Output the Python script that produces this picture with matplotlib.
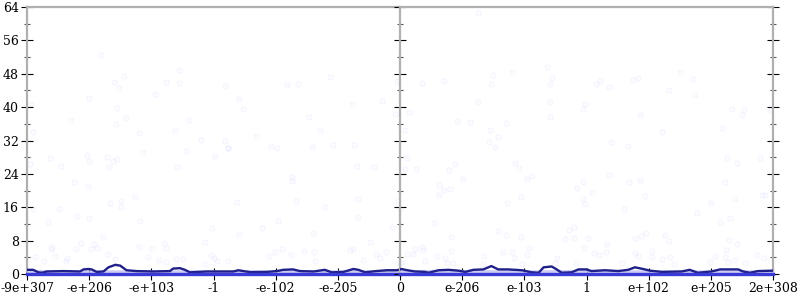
import numpy as np
import matplotlib
matplotlib.use("Agg")
import matplotlib.pyplot as plt

# x positions are in "tick units": 0..6 is the negative half, 6..12 the positive half
tick_pos = list(range(13))
tick_labels = ['-9e+307', '-e+206', '-e+103', '-1', '-e-102', '-e-205', '0',
               'e-206', 'e-103', '1', 'e+102', 'e+205', '2e+308']

# faint scatter points (error samples)
pts_x = [1.19, 1.00, 1.40, 1.48, 1.56, 1.44, 1.60, 1.43, 0.70, 0.10, 0.06, 1.80, 2.06,
         2.24, 2.44, 2.44, 2.38, 2.61, 2.80, 3.18, 3.41, 3.47, 3.18, 3.23, 3.68, 3.92,
         4.02, 4.19, 4.36, 4.53, 4.71, 4.88, 4.58, 4.92, 5.22, 5.26, 5.71, 5.95, 5.92,
         6.08, 6.14, 7.25, 6.35, 6.70, 6.92, 7.12, 7.25, 7.49, 7.47, 7.80, 7.44, 7.58,
         7.43, 7.53, 7.71, 8.36, 8.44, 8.42, 8.41, 8.42, 8.94, 8.98, 9.15, 9.22, 9.36,
         9.39, 9.66, 9.74, 9.83, 9.86, 10.32, 10.22, 10.50, 10.71, 10.74, 11.18, 11.34,
         11.53, 11.50, 11.97,
         0.37, 0.55, 0.96, 0.99, 1.29, 1.38, 1.45, 1.32, 1.87, 2.56, 2.41, 3.03, 3.24,
         0.75, 0.98, 0.05, 0.09, 0.51, 1.34, 1.51, 1.51, 1.74, 0.81, 1.00, 0.34, 1.82,
         1.23, 0.87, 1.07, 0.41, 0.38, 0.79, 1.03, 1.13, 0.45, 0.65, 0.62, 1.31, 1.42,
         0.13, 0.27, 1.80, 2.01, 2.21, 2.24, 1.95, 2.13, 2.23, 2.39, 2.51, 2.86, 2.98,
         3.38, 3.41, 2.96, 3.00, 3.06, 3.23, 2.87, 3.78, 4.03, 3.90, 3.99, 4.10, 4.26,
         4.27, 4.32, 4.60, 4.46, 4.61, 4.25, 4.64, 4.79, 5.31, 5.58, 5.33, 5.33, 5.51,
         5.25, 5.20, 5.41, 5.61, 5.77, 5.87, 5.96, 6.00, 5.68, 6.03,
         6.11, 6.26, 6.08, 6.79, 6.88, 7.01, 6.62, 6.71, 6.80, 6.62, 7.85, 7.92, 8.04,
         8.12, 7.94, 7.72, 6.54, 6.82, 7.57, 7.71, 7.95, 8.07, 8.84, 8.94, 8.94, 8.98,
         9.09, 9.36, 9.69, 9.86, 9.94, 9.60, 8.72, 8.80, 8.65, 8.80, 9.03, 8.96, 9.33,
         9.31, 9.20, 9.12, 9.78, 9.88, 9.95, 10.26, 10.32, 10.77, 11.01, 11.14, 11.31,
         11.39, 11.22, 11.26, 11.42, 11.79, 11.82, 11.87, 11.29, 11.42, 11.24, 11.23,
         11.07, 11.86, 11.75, 6.24, 6.35, 6.37, 6.11, 6.21, 6.59, 6.72, 6.82, 7.35,
         7.65, 7.80, 7.83, 8.05, 8.52, 8.50, 6.00, 6.40, 6.75, 6.85, 7.33, 7.97, 8.83,
         9.78, 9.83, 10.05, 10.05, 10.21, 10.34, 10.40, 9.57, 10.99, 11.28, 11.39, 11.55]
pts_y = [52.5, 42.2, 46.1, 44.7, 47.5, 39.9, 37.4, 36.0, 37.0, 34.1, 40.7, 33.8, 43.1,
         46.1, 49.0, 45.8, 34.5, 36.9, 32.1, 45.1, 42.0, 39.5, 31.9, 30.3, 33.1, 30.7,
         30.2, 45.3, 45.6, 37.7, 34.4, 47.3, 30.4, 30.9, 40.7, 30.9, 41.4, 46.2, 38.3,
         34.4, 38.8, 62.6, 45.9, 46.3, 36.6, 36.4, 41.3, 47.8, 45.6, 48.3, 34.6, 32.8,
         31.7, 30.4, 36.2, 49.5, 47.0, 45.6, 41.2, 37.6, 39.6, 40.7, 45.6, 46.3, 44.9,
         31.7, 30.7, 46.5, 47.1, 38.0, 44.2, 34.0, 48.5, 46.7, 42.8, 34.9, 39.5,
         39.3, 38.2, 39.3,
         27.9, 25.9, 28.5, 27.2, 28.0, 27.2, 27.6, 25.7, 29.2, 29.5, 25.7, 28.3, 30.1,
         22.1, 21.2, 26.3, 15.7, 15.7, 17.0, 17.6, 16.1, 18.4, 13.9, 13.5, 12.4, 12.7,
         8.9, 7.5, 7.3, 6.4, 5.9, 5.9, 5.9, 6.2, 4.3, 3.8, 3.0, 4.8, 3.6,
         4.0, 3.2, 6.4, 6.2, 7.4, 6.3, 4.0, 3.3, 2.9, 3.7, 3.7, 7.6, 11.1,
         17.2, 9.7, 4.6, 3.8, 3.0, 3.2, 2.4, 11.1, 12.6, 4.4, 5.3, 5.9, 23.3,
         22.4, 17.5, 9.8, 5.5, 5.3, 4.6, 3.0, 16.1, 26.0, 25.6, 18.0, 13.7, 7.6,
         6.0, 5.7, 3.4, 4.8, 5.2, 11.2, 17.6, 15.7, 3.9, 2.8,
         27.7, 25.2, 25.2, 24.9, 26.3, 22.7, 21.3, 20.1, 20.3, 18.9, 26.7, 25.5, 22.8,
         23.6, 18.5, 16.9, 12.3, 8.9, 10.4, 9.3, 8.8, 6.3, 20.7, 22.1, 17.9, 16.8,
         19.7, 23.8, 22.0, 22.5, 18.7, 15.6, 10.6, 11.2, 8.3, 8.7, 8.7, 6.3, 7.2,
         5.2, 4.6, 5.0, 8.6, 9.1, 9.9, 9.3, 7.9, 14.7, 17.1, 12.5, 13.5,
         17.9, 22.1, 27.9, 26.7, 27.9, 18.9, 18.9, 8.1, 7.1, 5.8, 4.1,
         4.3, 3.8, 4.6, 6.0, 6.5, 5.8, 4.7, 4.8, 4.4, 3.8, 5.5, 4.2,
         5.3, 5.2, 3.8, 4.6, 3.8, 2.7, 2.6, 3.0, 2.6, 2.6, 2.5, 2.5, 2.6,
         5.0, 4.2, 5.5, 4.0, 3.6, 4.0, 2.5, 2.6, 2.9, 2.9, 3.4, 2.6]

# running average of the error
line_x = [0.0, 0.10, 0.18, 0.24, 0.32, 0.58, 0.85, 0.91, 0.99, 1.04, 1.12, 1.23, 1.31,
          1.42, 1.50, 1.60, 1.76, 2.03, 2.30, 2.35, 2.46, 2.54, 2.62, 2.89, 3.10, 3.32,
          3.40, 3.48, 3.59, 3.86, 4.02, 4.12, 4.28, 4.39, 4.61, 4.79, 4.90, 5.09, 5.25,
          5.33, 5.44, 5.62, 5.79, 5.95, 6.03,
          6.08, 6.24, 6.40, 6.46, 6.62, 6.78, 6.94, 7.05, 7.18, 7.34, 7.47, 7.58, 7.74,
          7.96, 8.12, 8.23, 8.31, 8.44, 8.52, 8.60, 8.76, 8.87, 9.00, 9.08, 9.30, 9.51,
          9.67, 9.78, 9.91, 10.02, 10.21, 10.53, 10.66, 10.79, 11.01, 11.15, 11.44,
          11.52, 11.63, 11.76, 12.0]
line_y = [1.0, 1.0, 0.4, 0.3, 0.6, 0.7, 0.6, 1.1, 1.2, 1.1, 0.5, 0.6, 1.6,
          2.2, 2.0, 0.9, 0.7, 0.6, 0.7, 1.3, 1.4, 1.0, 0.4, 0.6, 0.6, 0.6,
          0.9, 0.7, 0.45, 0.5, 0.7, 1.0, 1.1, 0.7, 0.6, 1.0, 0.4, 0.5, 1.2,
          1.0, 0.4, 0.7, 0.9, 0.9, 1.2,
          1.0, 0.6, 0.5, 0.3, 0.9, 1.0, 0.8, 0.5, 1.0, 1.1, 1.9, 1.1, 1.1,
          0.9, 0.4, 0.3, 1.6, 1.8, 1.1, 0.3, 0.4, 1.1, 1.1, 0.7, 0.9, 0.7,
          1.0, 1.6, 1.2, 0.8, 0.5, 0.6, 1.0, 0.3, 0.6, 1.1, 1.1,
          0.6, 0.3, 0.7, 0.8]

# light band of dense low-error samples
band_x = [0, 1, 2, 3, 4, 5, 6, 7, 8, 9, 10, 11, 12]
band_top = [1.1, 1.0, 1.0, 1.0, 1.0, 1.0, 1.1, 1.1, 1.0, 1.1, 1.0, 1.0, 1.0]

pts_x = np.array(pts_x)
pts_y = np.array(pts_y)

fig = plt.figure(figsize=(8, 3), dpi=100)
ax1 = fig.add_axes([27 / 800, 26 / 300, 373 / 800, 267 / 300])
ax2 = fig.add_axes([400 / 800, 26 / 300, 373 / 800, 267 / 300])

axis_gray = '#b0b0b0'
for ax, lo, hi in [(ax1, 0, 6), (ax2, 6, 12)]:
    ax.set_xlim(lo, hi)
    ax.set_ylim(0, 64)
    ax.scatter(pts_x, pts_y, s=14, facecolor=(0, 0, 1, 0.012),
               edgecolor=(0, 0, 1, 0.035), linewidth=0.8, zorder=2)
    ax.fill_between(band_x, 0, band_top, color='#c4c4f4', alpha=0.85,
                    linewidth=0, zorder=3)
    ax.plot(line_x, line_y, color='#20208a', lw=1.7, zorder=4)
    ax.axhline(0, color='#3a3ad8', lw=2.4, zorder=5, clip_on=False)
    ax.spines['bottom'].set_visible(False)
    for s in ['top', 'left', 'right']:
        ax.spines[s].set_color(axis_gray)
        ax.spines[s].set_linewidth(1.6)
    ax.set_yticks(range(0, 65, 8))
    ax.set_yticks(range(4, 64, 8), minor=True)
    ax.tick_params(axis='y', which='major', direction='inout', length=8,
                   width=0.8, color='black')
    ax.tick_params(axis='y', which='minor', direction='inout', length=4,
                   width=0.8, color='#555555')
    ax.set_xticks(tick_pos[lo:hi + 1] if ax is ax2 else tick_pos[lo:hi])
    ax.set_xticklabels(tick_labels[lo:hi + 1] if ax is ax2 else tick_labels[lo:hi],
                       family='DejaVu Serif', fontsize=9)
    ax.tick_params(axis='x', direction='inout', length=8, width=0.8,
                   color='black', pad=2)
    ax.patch.set_alpha(0)

ax1.spines['right'].set_visible(False)
ax1.set_yticklabels([str(v) for v in range(0, 65, 8)], family='DejaVu Serif',
                    fontsize=9)
ax1.tick_params(axis='y', pad=2)
ax2.tick_params(axis='y', which='both', left=True, right=True, labelleft=False)

fig.savefig('out.png', dpi=100)
